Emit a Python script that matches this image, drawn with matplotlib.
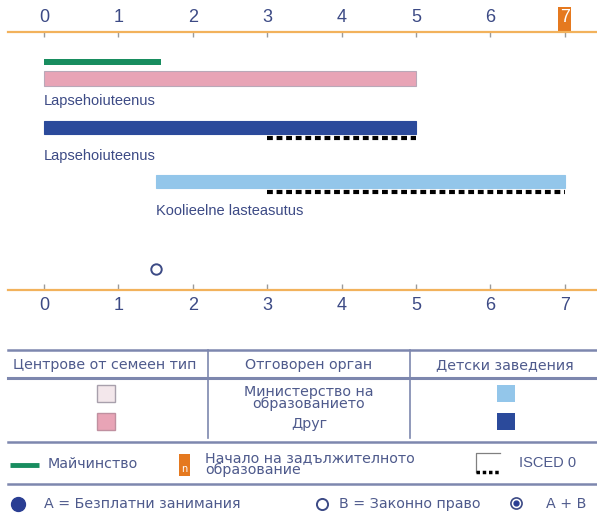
import matplotlib.pyplot as plt
from matplotlib.patches import Rectangle

# ages on the axis
years = list(range(8))
compulsory_age = 7
legal_right_age = 1.5
maternity = (0, 1.57)

# provision bars
bar_labels = ['Lapsehoiuteenus', 'Lapsehoiuteenus', 'Koolieelne lasteasutus']
bar_start = [0, 0, 1.5]
bar_end = [5, 5, 7]
isced_start = [None, 3, 3]
isced_end = [None, 5, 7]

# legend texts
col_headers = ['Центрове от семеен тип', 'Отговорен орган', 'Детски заведения']
authority = ['Министерство на\nобразованието', 'Друг']
leg_maternity = 'Майчинство'
leg_compulsory = 'Начало на задължителното\nобразование'
leg_isced = 'ISCED 0'
leg_free = 'A = Безплатни занимания'
leg_right = 'B = Законно право'
leg_both = 'A + B'

orange = '#F2B25C'
txt = '#3C4A85'
ltxt = '#4E5A8C'
rule = '#7D87AE'
bar_colors = ['#E8A4B6', '#2B4A9B', '#93C6EA']
bar_edges = ['#B9A8B8', '#2B4A9B', '#93C6EA']
narrow = ['Liberation Sans', 'DejaVu Sans']
plain = ['DejaVu Sans']

W, H = 597, 515
x0, unit = 44, 74.4
fig = plt.figure(figsize=(W / 100, H / 100), dpi=100)
ax = fig.add_axes([0, 0, 1, 1])
ax.set_xlim(-x0 / unit, (W - x0) / unit)
ax.set_ylim(H, 0)
ax.axis('off')
lg = fig.add_axes([0, 0, 1, 1])
lg.set_xlim(0, W)
lg.set_ylim(H, 0)
lg.axis('off')

# top and bottom age axes
for yl, t0, t1, ylab in [(32, 32, 37, 18), (290, 284, 290, 305)]:
    lg.plot([8, W], [yl, yl], color=orange, lw=1.6, zorder=1)
    ax.vlines(years, t0, t1, color='#9A9A9A', lw=1, zorder=2)
    for yr in years:
        c = txt
        if ylab == 18 and yr == compulsory_age:
            ax.add_patch(Rectangle((yr - 0.085, 7), 0.17, 24, fc='#E5791F', ec='none', zorder=2))
            c = 'white'
        ax.text(yr, ylab, str(yr), ha='center', va='center', fontsize=13,
                family=narrow, color=c, zorder=3)

# maternity bar
ax.barh(62, maternity[1] - maternity[0], left=maternity[0], height=6.5,
        color='#188D5F', zorder=3)

bar_y = [78, 127, 181.5]
bar_h = [15, 13, 13]
lab_y = [101, 156, 211]
dot_y = [None, 137.5, 191.5]
for i in range(3):
    ax.barh(bar_y[i], bar_end[i] - bar_start[i], left=bar_start[i], height=bar_h[i],
            color=bar_colors[i], edgecolor=bar_edges[i], lw=0.8, zorder=3)
    ax.text(bar_start[i], lab_y[i], bar_labels[i], ha='left', va='center',
            fontsize=10.5, family=narrow, color=txt)
    if isced_start[i] is not None:
        ax.plot([isced_start[i], isced_end[i]], [dot_y[i], dot_y[i]], color='black',
                lw=3, linestyle=(0, (1.4, 0.9)), solid_capstyle='butt', zorder=3)

# legal entitlement marker
ax.plot(legal_right_age, 269, 'o', ms=7.5, mfc='white', mec=txt, mew=1.4)

# legend table
lg.plot([8, W], [350, 350], color=rule, lw=1.8)
lg.plot([8, W], [378, 378], color=rule, lw=2.2)
lg.plot([8, W], [442, 442], color=rule, lw=1.8)
lg.plot([8, W], [484, 484], color=rule, lw=1.8)
for xd in [208, 410]:
    lg.plot([xd, xd], [350, 438], color=rule, lw=1.2)
for xc, h in zip([105, 309, 505], col_headers):
    lg.text(xc, 365, h, ha='center', va='center', fontsize=10.3, family=plain, color=ltxt)

lg.add_patch(Rectangle((97, 385), 18, 17, fc='#F3E7EB', ec='#A8A0AC', lw=1))
lg.add_patch(Rectangle((97, 413), 18, 17, fc=bar_colors[0], ec='#C090A0', lw=1))
lg.add_patch(Rectangle((497, 385), 18, 17, fc=bar_colors[2], ec='none'))
lg.add_patch(Rectangle((497, 413), 18, 17, fc=bar_colors[1], ec='none'))
lg.text(309, 398, authority[0], ha='center', va='center', fontsize=10.3, family=plain,
        color=ltxt, linespacing=0.85)
lg.text(309, 424, authority[1], ha='center', va='center', fontsize=10.3, family=plain,
        color=ltxt)

# symbols row
lg.plot([10, 39], [465, 465], color='#188D5F', lw=3.5, solid_capstyle='butt')
lg.text(48, 464, leg_maternity, ha='left', va='center', fontsize=10.3, family=plain, color=ltxt)
lg.add_patch(Rectangle((179, 454), 11, 22, fc='#E5791F', ec='none'))
lg.text(184.5, 469, 'n', ha='center', va='center', fontsize=7, color='white')
lg.text(205, 464, leg_compulsory, ha='left', va='center', fontsize=10.3, family=plain,
        color=ltxt, linespacing=0.8)
lg.plot([500, 476, 476], [453, 453, 472], color='#808080', lw=0.9)
lg.plot([476, 500], [472, 472], color='black', lw=2.5, linestyle=(0, (1, 0.8)))
lg.text(519, 463, leg_isced, ha='left', va='center', fontsize=10.5, family=narrow, color=ltxt)

lg.plot(18, 504, 'o', ms=10, color='#2A3E93')
lg.text(44, 504, leg_free, ha='left', va='center', fontsize=10.3, family=plain, color=ltxt)
lg.plot(322, 504, 'o', ms=8, mfc='white', mec=txt, mew=1.4)
lg.text(339, 504, leg_right, ha='left', va='center', fontsize=10.3, family=plain, color=ltxt)
lg.plot(516, 503, 'o', ms=8, mfc='white', mec=txt, mew=1.2)
lg.plot(516, 503, 'o', ms=3.5, color='#2A3E93')
lg.text(546, 504, leg_both, ha='left', va='center', fontsize=10.3, family=plain, color=ltxt)

fig.savefig('out.png', dpi=100)
